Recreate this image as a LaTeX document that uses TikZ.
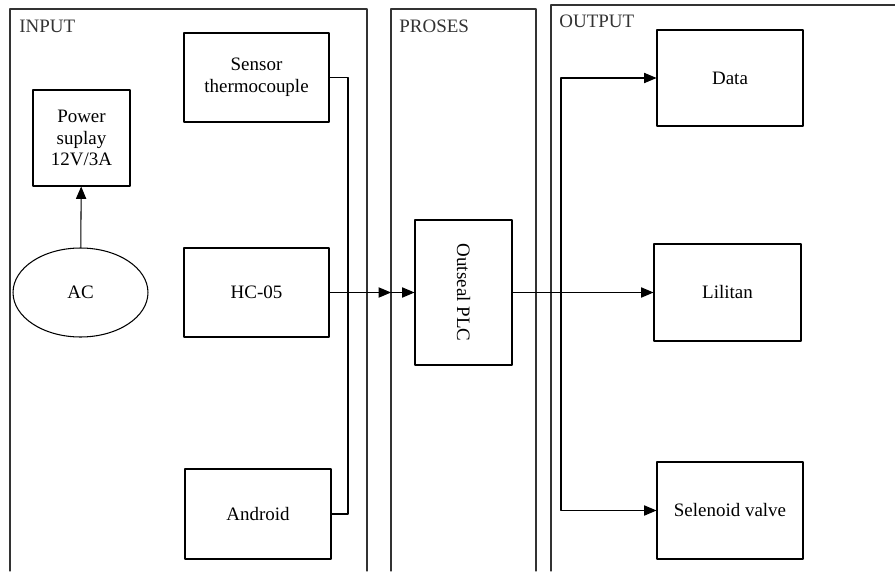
\documentclass[tikz,border=0pt]{standalone}
\usepackage{fontspec}
\setmainfont{Liberation Serif}
\usepackage{graphicx}
\usepackage{tikz}
\usetikzlibrary{arrows}
\usetikzlibrary{shapes.geometric}
\definecolor{ttttzz}{rgb}{0.2,0.2,0.2}
\tikzstyle{every node}=[font=\fontsize{10.8}{12.4}\selectfont]

\begin{document}
\begin{tikzpicture}[line cap=round,line join=round,>=triangle 45,x=0.02cm,y=-0.02cm,
    blok/.style={draw,line width=0.6pt,align=center,inner sep=0pt},
    panel/.style={line width=0.6pt,color=ttttzz},
    judul/.style={anchor=base west,inner sep=0pt,color=ttttzz},
    garis/.style={line width=0.6pt}]
\useasboundingbox (0,0) rectangle (895,571);
% panel
\draw [panel] (10,571) -- (10,9) -- (367,9) -- (367,571);
\draw [panel] (391,571) -- (391,9) -- (536,9) -- (536,571);
\draw [panel] (551,571) -- (551,5) -- (895,5);
\node [judul] (tinput) at (19,33) {INPUT};
\node [judul] (tproses) at (399,33) {PROSES};
\node [judul] (toutput) at (559,28) {OUTPUT};
% input
\node [blok,minimum width=1.94cm,minimum height=1.92cm] (power) at (81.5,138) {Power\\suplay\\12V/3A};
\node [blok,ellipse,minimum width=2.7cm,minimum height=1.78cm] (ac) at (80.5,292.5) {AC};
\node [blok,minimum width=2.9cm,minimum height=1.78cm] (sensor) at (256.5,77.5) {Sensor\\thermocouple};
\node [blok,minimum width=2.9cm,minimum height=1.78cm] (hc) at (256.5,292.5) {HC-05};
\node [blok,minimum width=2.92cm,minimum height=1.8cm] (android) at (258,514) {Android};
% proses
\node [blok,minimum width=1.94cm,minimum height=2.9cm] (plc) at (463.5,292.5) {\rotatebox{-90}{Outseal PLC}};
% output
\node [blok,minimum width=2.92cm,minimum height=1.92cm] (data) at (730,78) {Data};
\node [blok,minimum width=2.94cm,minimum height=1.94cm] (lilitan) at (727.5,292.5) {Lilitan};
\node [blok,minimum width=2.92cm,minimum height=1.94cm] (selenoid) at (730,510.5) {Selenoid valve};
\coordinate (gabung) at (348,292.5);
\coordinate (masuk) at (391,292.5);
\coordinate (cabang) at (561,292.5);
% connectors
\draw [->,garis] (ac) -- (power);
\draw [garis] (sensor.east) -| (gabung) |- (android.east);
\draw [->,garis] (hc.east) -- (masuk);
\draw [->,garis] (masuk) -- (plc.west);
\draw [garis] (plc.east) -- (cabang);
\draw [->,garis] (cabang) -- (lilitan.west);
\draw [->,garis] (cabang) |- (data.west);
\draw [->,garis] (cabang) |- (selenoid.west);
\end{tikzpicture}
\end{document}
